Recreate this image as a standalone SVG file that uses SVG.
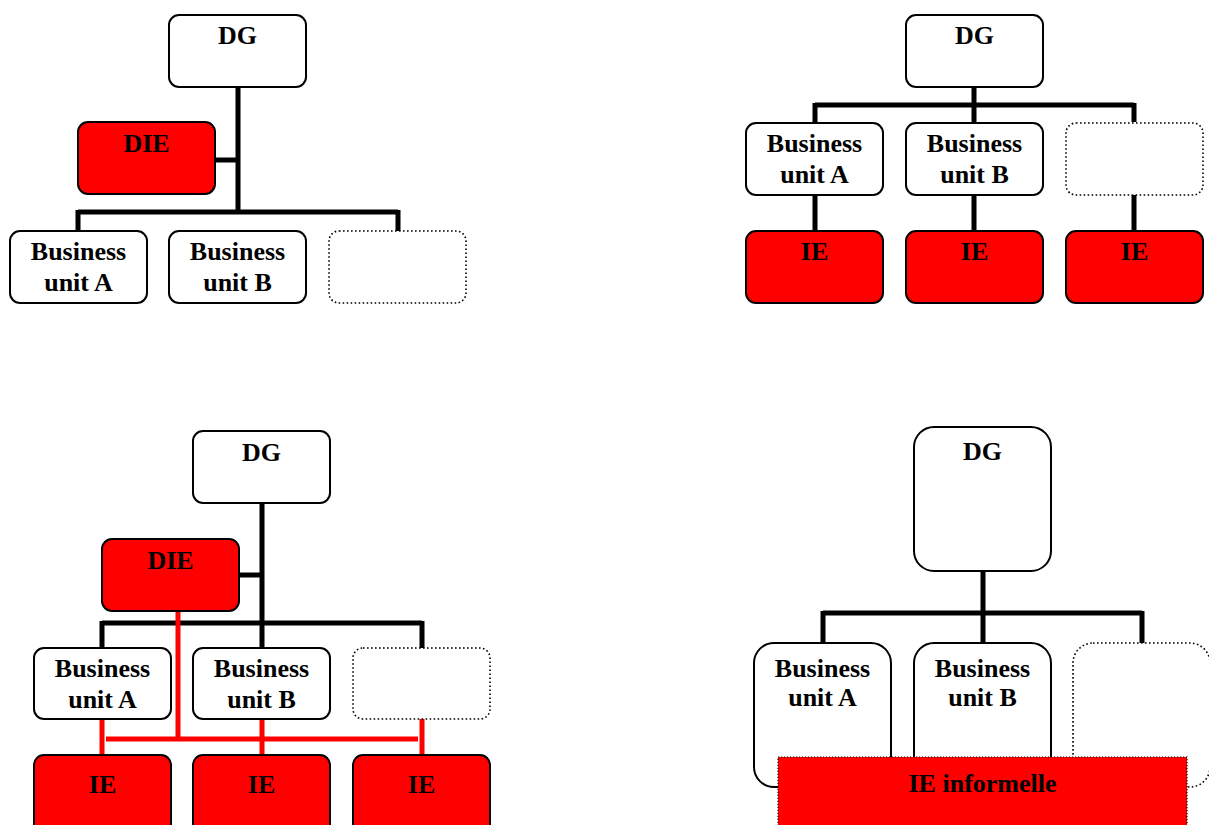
<svg xmlns="http://www.w3.org/2000/svg" width="1209" height="825" viewBox="0 0 1209 825">
<style>
.box{fill:#fff;stroke:#000;stroke-width:2}
.red{fill:#ff0000;stroke:#000;stroke-width:2}
.dot{fill:#fff;stroke:#000;stroke-width:1.6;stroke-dasharray:1.6 2.4}
.t{font-family:"Liberation Serif","Times New Roman",serif;font-weight:bold;font-size:26px;text-anchor:middle;fill:#000}
.k{fill:none;stroke:#000;stroke-width:5}
.r{fill:none;stroke:#ff0000;stroke-width:5}
</style>
<g id="connectors">
<!-- panel 1 -->
<path class="k" d="M238 87V214M215 160H238M78 212H398M78 210V231M398 210V231"/>
<!-- panel 2 -->
<path class="k" d="M974 87V122M815 105H1134M815 103V122M1134 103V122M815 195V231M974 195V231M1134 195V231"/>
<!-- panel 3 -->
<path class="k" d="M262 503V648M239 575H262M102 623H422M102 621V648M422 621V648"/>
<path class="r" d="M178 612V741M106 739H418M102 719V755M262 719V755M422 719V755"/>
<!-- panel 4 -->
<path class="k" d="M983 571V643M823 613H1142M823 611V643M1142 611V643"/>
</g>
<g id="p1-dg"><rect class="box" x="169" y="15" width="137" height="72" rx="10"/><text class="t" x="237.5" y="44">DG</text></g>
<g id="p1-die"><rect class="red" x="78" y="122" width="137" height="72" rx="10"/><text class="t" x="146.5" y="152">DIE</text></g>
<g id="p1-bua"><rect class="box" x="10" y="231" width="137" height="72" rx="10"/><text class="t" x="78.5" y="260">Business</text><text class="t" x="78.5" y="291">unit A</text></g>
<g id="p1-bub"><rect class="box" x="169" y="231" width="137" height="72" rx="10"/><text class="t" x="237.5" y="260">Business</text><text class="t" x="237.5" y="291">unit B</text></g>
<g id="p1-empty"><rect class="dot" x="329" y="231" width="137" height="72" rx="10"/></g>

<g id="p2-dg"><rect class="box" x="906" y="15" width="137" height="72" rx="10"/><text class="t" x="974.5" y="44">DG</text></g>
<g id="p2-bua"><rect class="box" x="746" y="123" width="137" height="72" rx="10"/><text class="t" x="814.5" y="152">Business</text><text class="t" x="814.5" y="183">unit A</text></g>
<g id="p2-bub"><rect class="box" x="906" y="123" width="137" height="72" rx="10"/><text class="t" x="974.5" y="152">Business</text><text class="t" x="974.5" y="183">unit B</text></g>
<g id="p2-empty"><rect class="dot" x="1066" y="123" width="137" height="72" rx="10"/></g>
<g id="p2-ie1"><rect class="red" x="746" y="231" width="137" height="72" rx="10"/><text class="t" x="814.5" y="260">IE</text></g>
<g id="p2-ie2"><rect class="red" x="906" y="231" width="137" height="72" rx="10"/><text class="t" x="974.5" y="260">IE</text></g>
<g id="p2-ie3"><rect class="red" x="1066" y="231" width="137" height="72" rx="10"/><text class="t" x="1134.5" y="260">IE</text></g>

<g id="p3-dg"><rect class="box" x="193" y="431" width="137" height="72" rx="10"/><text class="t" x="261.5" y="461">DG</text></g>
<g id="p3-die"><rect class="red" x="102" y="539" width="137" height="72" rx="10"/><text class="t" x="170.5" y="569">DIE</text></g>
<g id="p3-bua"><rect class="box" x="34" y="648" width="137" height="71" rx="10"/><text class="t" x="102.5" y="677">Business</text><text class="t" x="102.5" y="708">unit A</text></g>
<g id="p3-bub"><rect class="box" x="193" y="648" width="137" height="71" rx="10"/><text class="t" x="261.5" y="677">Business</text><text class="t" x="261.5" y="708">unit B</text></g>
<g id="p3-empty"><rect class="dot" x="353" y="648" width="137" height="71" rx="10"/></g>
<g id="p3-ie1"><rect class="red" x="34" y="755" width="137" height="80" rx="10"/><text class="t" x="102.5" y="793">IE</text></g>
<g id="p3-ie2"><rect class="red" x="193" y="755" width="137" height="80" rx="10"/><text class="t" x="261.5" y="793">IE</text></g>
<g id="p3-ie3"><rect class="red" x="353" y="755" width="137" height="80" rx="10"/><text class="t" x="421.5" y="793">IE</text></g>

<g id="p4-dg"><rect class="box" x="914" y="427" width="137" height="144" rx="20"/><text class="t" x="982.5" y="460">DG</text></g>
<g id="p4-bua"><rect class="box" x="754" y="643" width="137" height="144" rx="20"/><text class="t" x="822.5" y="677">Business</text><text class="t" x="822.5" y="706">unit A</text></g>
<g id="p4-bub"><rect class="box" x="914" y="643" width="137" height="144" rx="20"/><text class="t" x="982.5" y="677">Business</text><text class="t" x="982.5" y="706">unit B</text></g>
<g id="p4-empty"><rect class="dot" x="1073" y="643" width="137" height="144" rx="20"/></g>
<g id="p4-ie"><rect x="778" y="757" width="409" height="80" fill="#ff0000" stroke="#000" stroke-width="1.2" stroke-dasharray="1.2 1.8"/><text class="t" x="982.5" y="792">IE informelle</text></g>
</svg>
